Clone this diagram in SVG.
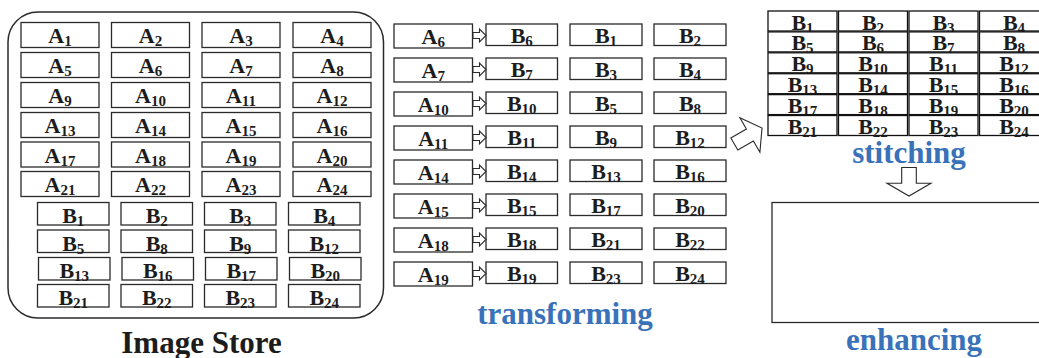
<svg xmlns="http://www.w3.org/2000/svg" xmlns:xlink="http://www.w3.org/1999/xlink" width="1039" height="358" viewBox="0 0 1039 358">
  <style>
    .bg { fill: #ffffff; }
    .box { fill: #ffffff; stroke: #2a2a2a; stroke-width: 1.3; }
    .cell { fill: #ffffff; stroke: #111111; stroke-width: 1.3; }
    .store { fill: #ffffff; stroke: #2a2a2a; stroke-width: 1.5; }
    .hollow { fill: #ffffff; stroke: #2a2a2a; stroke-width: 1.1; stroke-linejoin: miter; }
    .lbl { font-family: "Liberation Serif", "Times New Roman", serif; font-weight: bold; font-size: 22px; fill: #1c1c1c; text-anchor: middle; }
    .sub { font-size: 15px; }
    .title { font-family: "Liberation Serif", "Times New Roman", serif; font-weight: bold; font-size: 31px; fill: #1c1c1c; text-anchor: middle; }
    .step { font-family: "Liberation Serif", "Times New Roman", serif; font-weight: bold; font-size: 31px; fill: #3a72b9; text-anchor: middle; }
  </style>
  <defs>
    <path id="smallArrow" class="hollow" d="M0,-3 H6.5 V-6.5 L13,0 L6.5,6.5 V3 H0 Z"/>
  </defs>
  <rect class="bg" x="0" y="0" width="1039" height="358"/>

  <!-- Image store container -->
  <g id="image-store">
    <rect class="store" x="8" y="12" width="375.5" height="306" rx="30" ry="30"/>
    <text class="title" x="201.5" y="353">Image Store</text>
  </g>

  <!-- Stored A tiles -->
  <g id="store-A1"><rect class="box" x="21" y="22.5" width="78" height="25"/><text class="lbl" x="60" y="43">A<tspan class="sub" dy="3">1</tspan></text></g>
  <g id="store-A2"><rect class="box" x="111.5" y="22.5" width="78" height="25"/><text class="lbl" x="150.5" y="43">A<tspan class="sub" dy="3">2</tspan></text></g>
  <g id="store-A3"><rect class="box" x="202" y="22.5" width="78" height="25"/><text class="lbl" x="241" y="43">A<tspan class="sub" dy="3">3</tspan></text></g>
  <g id="store-A4"><rect class="box" x="293" y="22.5" width="78" height="25"/><text class="lbl" x="332" y="43">A<tspan class="sub" dy="3">4</tspan></text></g>

  <g id="store-A5"><rect class="box" x="21" y="52.5" width="78" height="25"/><text class="lbl" x="60" y="73">A<tspan class="sub" dy="3">5</tspan></text></g>
  <g id="store-A6"><rect class="box" x="111.5" y="52.5" width="78" height="25"/><text class="lbl" x="150.5" y="73">A<tspan class="sub" dy="3">6</tspan></text></g>
  <g id="store-A7"><rect class="box" x="202" y="52.5" width="78" height="25"/><text class="lbl" x="241" y="73">A<tspan class="sub" dy="3">7</tspan></text></g>
  <g id="store-A8"><rect class="box" x="293" y="52.5" width="78" height="25"/><text class="lbl" x="332" y="73">A<tspan class="sub" dy="3">8</tspan></text></g>

  <g id="store-A9"><rect class="box" x="21" y="82.5" width="78" height="25"/><text class="lbl" x="60" y="103">A<tspan class="sub" dy="3">9</tspan></text></g>
  <g id="store-A10"><rect class="box" x="111.5" y="82.5" width="78" height="25"/><text class="lbl" x="150.5" y="103">A<tspan class="sub" dy="3">10</tspan></text></g>
  <g id="store-A11"><rect class="box" x="202" y="82.5" width="78" height="25"/><text class="lbl" x="241" y="103">A<tspan class="sub" dy="3">11</tspan></text></g>
  <g id="store-A12"><rect class="box" x="293" y="82.5" width="78" height="25"/><text class="lbl" x="332" y="103">A<tspan class="sub" dy="3">12</tspan></text></g>

  <g id="store-A13"><rect class="box" x="21" y="112.5" width="78" height="25"/><text class="lbl" x="60" y="133">A<tspan class="sub" dy="3">13</tspan></text></g>
  <g id="store-A14"><rect class="box" x="111.5" y="112.5" width="78" height="25"/><text class="lbl" x="150.5" y="133">A<tspan class="sub" dy="3">14</tspan></text></g>
  <g id="store-A15"><rect class="box" x="202" y="112.5" width="78" height="25"/><text class="lbl" x="241" y="133">A<tspan class="sub" dy="3">15</tspan></text></g>
  <g id="store-A16"><rect class="box" x="293" y="112.5" width="78" height="25"/><text class="lbl" x="332" y="133">A<tspan class="sub" dy="3">16</tspan></text></g>

  <g id="store-A17"><rect class="box" x="21" y="142" width="78" height="25"/><text class="lbl" x="60" y="162.5">A<tspan class="sub" dy="3">17</tspan></text></g>
  <g id="store-A18"><rect class="box" x="111.5" y="142" width="78" height="25"/><text class="lbl" x="150.5" y="162.5">A<tspan class="sub" dy="3">18</tspan></text></g>
  <g id="store-A19"><rect class="box" x="202" y="142" width="78" height="25"/><text class="lbl" x="241" y="162.5">A<tspan class="sub" dy="3">19</tspan></text></g>
  <g id="store-A20"><rect class="box" x="293" y="142" width="78" height="25"/><text class="lbl" x="332" y="162.5">A<tspan class="sub" dy="3">20</tspan></text></g>

  <g id="store-A21"><rect class="box" x="21" y="171.5" width="78" height="25"/><text class="lbl" x="60" y="192">A<tspan class="sub" dy="3">21</tspan></text></g>
  <g id="store-A22"><rect class="box" x="111.5" y="171.5" width="78" height="25"/><text class="lbl" x="150.5" y="192">A<tspan class="sub" dy="3">22</tspan></text></g>
  <g id="store-A23"><rect class="box" x="202" y="171.5" width="78" height="25"/><text class="lbl" x="241" y="192">A<tspan class="sub" dy="3">23</tspan></text></g>
  <g id="store-A24"><rect class="box" x="293" y="171.5" width="78" height="25"/><text class="lbl" x="332" y="192">A<tspan class="sub" dy="3">24</tspan></text></g>

  <!-- Stored B tiles -->
  <g id="store-B1"><rect class="box" x="37.5" y="202.5" width="71.5" height="22.5"/><text class="lbl" x="73.25" y="223">B<tspan class="sub" dy="3">1</tspan></text></g>
  <g id="store-B2"><rect class="box" x="121" y="202.5" width="71.5" height="22.5"/><text class="lbl" x="156.75" y="223">B<tspan class="sub" dy="3">2</tspan></text></g>
  <g id="store-B3"><rect class="box" x="204.5" y="202.5" width="71.5" height="22.5"/><text class="lbl" x="240.25" y="223">B<tspan class="sub" dy="3">3</tspan></text></g>
  <g id="store-B4"><rect class="box" x="288.5" y="202.5" width="71.5" height="22.5"/><text class="lbl" x="324.25" y="223">B<tspan class="sub" dy="3">4</tspan></text></g>

  <g id="store-B5"><rect class="box" x="37.5" y="230" width="71.5" height="22.5"/><text class="lbl" x="73.25" y="250.5">B<tspan class="sub" dy="3">5</tspan></text></g>
  <g id="store-B8"><rect class="box" x="121" y="230" width="71.5" height="22.5"/><text class="lbl" x="156.75" y="250.5">B<tspan class="sub" dy="3">8</tspan></text></g>
  <g id="store-B9"><rect class="box" x="204.5" y="230" width="71.5" height="22.5"/><text class="lbl" x="240.25" y="250.5">B<tspan class="sub" dy="3">9</tspan></text></g>
  <g id="store-B12"><rect class="box" x="288.5" y="230" width="71.5" height="22.5"/><text class="lbl" x="324.25" y="250.5">B<tspan class="sub" dy="3">12</tspan></text></g>

  <g id="store-B13"><rect class="box" x="38.5" y="257.5" width="71.5" height="22.5"/><text class="lbl" x="74.25" y="278">B<tspan class="sub" dy="3">13</tspan></text></g>
  <g id="store-B16"><rect class="box" x="122" y="257.5" width="71.5" height="22.5"/><text class="lbl" x="157.75" y="278">B<tspan class="sub" dy="3">16</tspan></text></g>
  <g id="store-B17"><rect class="box" x="205.5" y="257.5" width="71.5" height="22.5"/><text class="lbl" x="241.25" y="278">B<tspan class="sub" dy="3">17</tspan></text></g>
  <g id="store-B20"><rect class="box" x="289.5" y="257.5" width="71.5" height="22.5"/><text class="lbl" x="325.25" y="278">B<tspan class="sub" dy="3">20</tspan></text></g>

  <g id="store-B21"><rect class="box" x="37.5" y="284.5" width="71.5" height="22.5"/><text class="lbl" x="73.25" y="305">B<tspan class="sub" dy="3">21</tspan></text></g>
  <g id="store-B22"><rect class="box" x="121" y="284.5" width="71.5" height="22.5"/><text class="lbl" x="156.75" y="305">B<tspan class="sub" dy="3">22</tspan></text></g>
  <g id="store-B23"><rect class="box" x="204.5" y="284.5" width="71.5" height="22.5"/><text class="lbl" x="240.25" y="305">B<tspan class="sub" dy="3">23</tspan></text></g>
  <g id="store-B24"><rect class="box" x="288.5" y="284.5" width="71.5" height="22.5"/><text class="lbl" x="324.25" y="305">B<tspan class="sub" dy="3">24</tspan></text></g>

  <!-- Transforming stage: source A tiles -->
  <g id="tf-A6"><rect class="box" x="394" y="24" width="78.5" height="24"/><text class="lbl" x="433.25" y="44">A<tspan class="sub" dy="3">6</tspan></text></g>
  <g id="tf-A7"><rect class="box" x="394" y="58" width="78.5" height="24"/><text class="lbl" x="433.25" y="78">A<tspan class="sub" dy="3">7</tspan></text></g>
  <g id="tf-A10"><rect class="box" x="394" y="92" width="78.5" height="24"/><text class="lbl" x="433.25" y="112">A<tspan class="sub" dy="3">10</tspan></text></g>
  <g id="tf-A11"><rect class="box" x="394" y="126" width="78.5" height="24"/><text class="lbl" x="433.25" y="146">A<tspan class="sub" dy="3">11</tspan></text></g>
  <g id="tf-A14"><rect class="box" x="394" y="160" width="78.5" height="24"/><text class="lbl" x="433.25" y="180">A<tspan class="sub" dy="3">14</tspan></text></g>
  <g id="tf-A15"><rect class="box" x="394" y="194" width="78.5" height="24"/><text class="lbl" x="433.25" y="214">A<tspan class="sub" dy="3">15</tspan></text></g>
  <g id="tf-A18"><rect class="box" x="394" y="228" width="78.5" height="24"/><text class="lbl" x="433.25" y="248">A<tspan class="sub" dy="3">18</tspan></text></g>
  <g id="tf-A19"><rect class="box" x="394" y="262" width="78.5" height="24"/><text class="lbl" x="433.25" y="282">A<tspan class="sub" dy="3">19</tspan></text></g>

  <!-- Transforming stage: converted B tiles -->
  <g id="tf-B6"><rect class="box" x="486" y="24" width="71.5" height="21.5"/><text class="lbl" x="521.75" y="43">B<tspan class="sub" dy="3">6</tspan></text></g>
  <g id="tf-B7"><rect class="box" x="486" y="58" width="71.5" height="21.5"/><text class="lbl" x="521.75" y="77">B<tspan class="sub" dy="3">7</tspan></text></g>
  <g id="tf-B10"><rect class="box" x="486" y="92" width="71.5" height="21.5"/><text class="lbl" x="521.75" y="111">B<tspan class="sub" dy="3">10</tspan></text></g>
  <g id="tf-B11"><rect class="box" x="486" y="126" width="71.5" height="21.5"/><text class="lbl" x="521.75" y="145">B<tspan class="sub" dy="3">11</tspan></text></g>
  <g id="tf-B14"><rect class="box" x="486" y="160" width="71.5" height="21.5"/><text class="lbl" x="521.75" y="179">B<tspan class="sub" dy="3">14</tspan></text></g>
  <g id="tf-B15"><rect class="box" x="486" y="194" width="71.5" height="21.5"/><text class="lbl" x="521.75" y="213">B<tspan class="sub" dy="3">15</tspan></text></g>
  <g id="tf-B18"><rect class="box" x="486" y="228" width="71.5" height="21.5"/><text class="lbl" x="521.75" y="247">B<tspan class="sub" dy="3">18</tspan></text></g>
  <g id="tf-B19"><rect class="box" x="486" y="262" width="71.5" height="21.5"/><text class="lbl" x="521.75" y="281">B<tspan class="sub" dy="3">19</tspan></text></g>

  <!-- Transforming stage: already stored B tiles -->
  <g id="tf-B1"><rect class="box" x="570" y="24" width="72" height="21.5"/><text class="lbl" x="606" y="43">B<tspan class="sub" dy="3">1</tspan></text></g>
  <g id="tf-B2"><rect class="box" x="654" y="24" width="72" height="21.5"/><text class="lbl" x="690" y="43">B<tspan class="sub" dy="3">2</tspan></text></g>
  <g id="tf-B3"><rect class="box" x="570" y="58" width="72" height="21.5"/><text class="lbl" x="606" y="77">B<tspan class="sub" dy="3">3</tspan></text></g>
  <g id="tf-B4"><rect class="box" x="654" y="58" width="72" height="21.5"/><text class="lbl" x="690" y="77">B<tspan class="sub" dy="3">4</tspan></text></g>
  <g id="tf-B5"><rect class="box" x="570" y="92" width="72" height="21.5"/><text class="lbl" x="606" y="111">B<tspan class="sub" dy="3">5</tspan></text></g>
  <g id="tf-B8"><rect class="box" x="654" y="92" width="72" height="21.5"/><text class="lbl" x="690" y="111">B<tspan class="sub" dy="3">8</tspan></text></g>
  <g id="tf-B9"><rect class="box" x="570" y="126" width="72" height="21.5"/><text class="lbl" x="606" y="145">B<tspan class="sub" dy="3">9</tspan></text></g>
  <g id="tf-B12"><rect class="box" x="654" y="126" width="72" height="21.5"/><text class="lbl" x="690" y="145">B<tspan class="sub" dy="3">12</tspan></text></g>
  <g id="tf-B13"><rect class="box" x="570" y="160" width="72" height="21.5"/><text class="lbl" x="606" y="179">B<tspan class="sub" dy="3">13</tspan></text></g>
  <g id="tf-B16"><rect class="box" x="654" y="160" width="72" height="21.5"/><text class="lbl" x="690" y="179">B<tspan class="sub" dy="3">16</tspan></text></g>
  <g id="tf-B17"><rect class="box" x="570" y="194" width="72" height="21.5"/><text class="lbl" x="606" y="213">B<tspan class="sub" dy="3">17</tspan></text></g>
  <g id="tf-B20"><rect class="box" x="654" y="194" width="72" height="21.5"/><text class="lbl" x="690" y="213">B<tspan class="sub" dy="3">20</tspan></text></g>
  <g id="tf-B21"><rect class="box" x="570" y="228" width="72" height="21.5"/><text class="lbl" x="606" y="247">B<tspan class="sub" dy="3">21</tspan></text></g>
  <g id="tf-B22"><rect class="box" x="654" y="228" width="72" height="21.5"/><text class="lbl" x="690" y="247">B<tspan class="sub" dy="3">22</tspan></text></g>
  <g id="tf-B23"><rect class="box" x="570" y="262" width="72" height="21.5"/><text class="lbl" x="606" y="281">B<tspan class="sub" dy="3">23</tspan></text></g>
  <g id="tf-B24"><rect class="box" x="654" y="262" width="72" height="21.5"/><text class="lbl" x="690" y="281">B<tspan class="sub" dy="3">24</tspan></text></g>

  <g id="tf-caption"><text class="step" x="565" y="324">transforming</text></g>

  <!-- Stitched mosaic -->
  <g id="stitched-grid">
    <g id="grid-B1"><rect class="cell" x="768" y="11" width="69" height="20"/><text class="lbl" x="802.5" y="29.5">B<tspan class="sub" dy="3">1</tspan></text></g>
    <g id="grid-B2"><rect class="cell" x="838.5" y="11" width="69" height="20"/><text class="lbl" x="873" y="29.5">B<tspan class="sub" dy="3">2</tspan></text></g>
    <g id="grid-B3"><rect class="cell" x="909" y="11" width="69" height="20"/><text class="lbl" x="943.5" y="29.5">B<tspan class="sub" dy="3">3</tspan></text></g>
    <g id="grid-B4"><rect class="cell" x="979.5" y="11" width="69" height="20"/><text class="lbl" x="1014" y="29.5">B<tspan class="sub" dy="3">4</tspan></text></g>

    <g id="grid-B5"><rect class="cell" x="768" y="31.9" width="69" height="20"/><text class="lbl" x="802.5" y="50.4">B<tspan class="sub" dy="3">5</tspan></text></g>
    <g id="grid-B6"><rect class="cell" x="838.5" y="31.9" width="69" height="20"/><text class="lbl" x="873" y="50.4">B<tspan class="sub" dy="3">6</tspan></text></g>
    <g id="grid-B7"><rect class="cell" x="909" y="31.9" width="69" height="20"/><text class="lbl" x="943.5" y="50.4">B<tspan class="sub" dy="3">7</tspan></text></g>
    <g id="grid-B8"><rect class="cell" x="979.5" y="31.9" width="69" height="20"/><text class="lbl" x="1014" y="50.4">B<tspan class="sub" dy="3">8</tspan></text></g>

    <g id="grid-B9"><rect class="cell" x="768" y="52.8" width="69" height="20"/><text class="lbl" x="802.5" y="71.3">B<tspan class="sub" dy="3">9</tspan></text></g>
    <g id="grid-B10"><rect class="cell" x="838.5" y="52.8" width="69" height="20"/><text class="lbl" x="873" y="71.3">B<tspan class="sub" dy="3">10</tspan></text></g>
    <g id="grid-B11"><rect class="cell" x="909" y="52.8" width="69" height="20"/><text class="lbl" x="943.5" y="71.3">B<tspan class="sub" dy="3">11</tspan></text></g>
    <g id="grid-B12"><rect class="cell" x="979.5" y="52.8" width="69" height="20"/><text class="lbl" x="1014" y="71.3">B<tspan class="sub" dy="3">12</tspan></text></g>

    <g id="grid-B13"><rect class="cell" x="768" y="73.7" width="69" height="20"/><text class="lbl" x="802.5" y="92.2">B<tspan class="sub" dy="3">13</tspan></text></g>
    <g id="grid-B14"><rect class="cell" x="838.5" y="73.7" width="69" height="20"/><text class="lbl" x="873" y="92.2">B<tspan class="sub" dy="3">14</tspan></text></g>
    <g id="grid-B15"><rect class="cell" x="909" y="73.7" width="69" height="20"/><text class="lbl" x="943.5" y="92.2">B<tspan class="sub" dy="3">15</tspan></text></g>
    <g id="grid-B16"><rect class="cell" x="979.5" y="73.7" width="69" height="20"/><text class="lbl" x="1014" y="92.2">B<tspan class="sub" dy="3">16</tspan></text></g>

    <g id="grid-B17"><rect class="cell" x="768" y="94.6" width="69" height="20"/><text class="lbl" x="802.5" y="113.1">B<tspan class="sub" dy="3">17</tspan></text></g>
    <g id="grid-B18"><rect class="cell" x="838.5" y="94.6" width="69" height="20"/><text class="lbl" x="873" y="113.1">B<tspan class="sub" dy="3">18</tspan></text></g>
    <g id="grid-B19"><rect class="cell" x="909" y="94.6" width="69" height="20"/><text class="lbl" x="943.5" y="113.1">B<tspan class="sub" dy="3">19</tspan></text></g>
    <g id="grid-B20"><rect class="cell" x="979.5" y="94.6" width="69" height="20"/><text class="lbl" x="1014" y="113.1">B<tspan class="sub" dy="3">20</tspan></text></g>

    <g id="grid-B21"><rect class="cell" x="768" y="115.5" width="69" height="20"/><text class="lbl" x="802.5" y="134">B<tspan class="sub" dy="3">21</tspan></text></g>
    <g id="grid-B22"><rect class="cell" x="838.5" y="115.5" width="69" height="20"/><text class="lbl" x="873" y="134">B<tspan class="sub" dy="3">22</tspan></text></g>
    <g id="grid-B23"><rect class="cell" x="909" y="115.5" width="69" height="20"/><text class="lbl" x="943.5" y="134">B<tspan class="sub" dy="3">23</tspan></text></g>
    <g id="grid-B24"><rect class="cell" x="979.5" y="115.5" width="69" height="20"/><text class="lbl" x="1014" y="134">B<tspan class="sub" dy="3">24</tspan></text></g>
  </g>
  <g id="stitch-caption"><text class="step" x="909" y="163">stitching</text></g>

  <!-- Enhanced output -->
  <g id="enhanced">
    <rect class="box" x="772" y="202.5" width="275" height="120"/>
    <text class="step" x="914" y="350">enhancing</text>
  </g>

  <!-- Connectors -->
  <g id="connectors">
    <use xlink:href="#smallArrow" x="473" y="35.5"/>
    <use xlink:href="#smallArrow" x="473" y="69.5"/>
    <use xlink:href="#smallArrow" x="473" y="103.5"/>
    <use xlink:href="#smallArrow" x="473" y="137.5"/>
    <use xlink:href="#smallArrow" x="473" y="171.5"/>
    <use xlink:href="#smallArrow" x="473" y="205.5"/>
    <use xlink:href="#smallArrow" x="473" y="239.5"/>
    <use xlink:href="#smallArrow" x="473" y="273.5"/>
    <polygon class="hollow" transform="translate(749.9,135) rotate(-30)" points="-18,-7 0,-7 0,-20 14,0 0,20 0,7 -18,7"/>
    <polygon class="hollow" points="901.7,167.5 916.3,167.5 916.3,183.3 931,183.3 909,196 887,183.3 901.7,183.3"/>
  </g>
</svg>
